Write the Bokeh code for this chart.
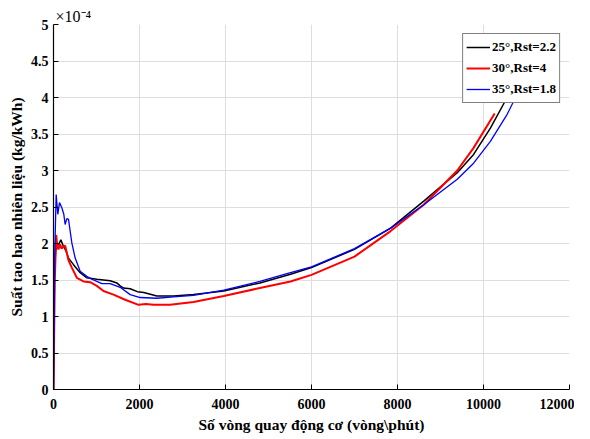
from bokeh.plotting import figure
from bokeh.models import FixedTicker, Legend, LegendItem, Range1d
from bokeh.embed import file_html
from bokeh.resources import INLINE

# ---- data (specific fuel consumption in units of 1e-4 kg/kWh) ----
rpm_25 = [0, 20, 50, 78, 130, 171, 233, 290, 349, 465, 620, 775, 1008, 1318, 1473,
          1550, 1628, 1783, 1950, 2100, 2403, 2791, 3256, 3961, 4800, 5512, 6000,
          7000, 7840, 8610, 9390, 9770, 10160, 10550, 10700]
sfc_25 = [0, 1.6, 1.9, 1.96, 2.0, 2.05, 1.96, 1.9, 1.80, 1.71, 1.60, 1.53, 1.51, 1.49,
          1.46, 1.42, 1.39, 1.38, 1.34, 1.33, 1.28, 1.28, 1.30, 1.35, 1.46, 1.58, 1.67,
          1.92, 2.21, 2.58, 2.97, 3.22, 3.58, 4.0, 4.2]

rpm_30 = [0, 30, 62, 90, 116, 155, 190, 217, 271, 349, 426, 543, 698, 853, 1008, 1163,
          1395, 1667, 1977, 2150, 2326, 2713, 3256, 3961, 4800, 5512, 6000, 7000, 7840,
          8610, 9390, 9770, 10260]
sfc_30 = [0, 1.5, 2.12, 1.95, 1.92, 1.99, 1.93, 1.95, 1.97, 1.77, 1.67, 1.53, 1.48,
          1.47, 1.42, 1.35, 1.30, 1.23, 1.16, 1.17, 1.16, 1.16, 1.20, 1.28, 1.39, 1.48,
          1.57, 1.82, 2.17, 2.53, 3.0, 3.31, 3.78]

rpm_35 = [0, 30, 62, 100, 140, 194, 240, 271, 310, 349, 426, 504, 620, 775, 891, 1008,
          1124, 1318, 1550, 1783, 2016, 2403, 2791, 3256, 3961, 4800, 5512, 6000, 7000,
          7840, 8610, 9390, 9770, 10160, 10550, 10780, 11000]
sfc_35 = [0, 1.9, 2.67, 2.40, 2.56, 2.49, 2.40, 2.26, 2.34, 2.33, 2.01, 1.80, 1.62,
          1.55, 1.51, 1.48, 1.45, 1.45, 1.40, 1.30, 1.26, 1.25, 1.27, 1.29, 1.36, 1.48,
          1.60, 1.68, 1.93, 2.21, 2.53, 2.88, 3.10, 3.40, 3.77, 4.04, 4.3]

series_labels = ["25°,Rst=2.2", "30°,Rst=4", "35°,Rst=1.8"]
series_colors = ["black", "red", "blue"]

x_ticks = [0, 2000, 4000, 6000, 8000, 10000, 12000]
y_ticks = [0, 0.5, 1, 1.5, 2, 2.5, 3, 3.5, 4, 4.5, 5]
y_tick_labels = ["0", "0.5", "1", "1.5", "2", "2.5", "3", "3.5", "4", "4.5", "5"]

FONT = "Liberation Serif"

p = figure(width=574, height=423, output_backend="svg", toolbar_location=None,
           x_range=Range1d(0, 12000), y_range=Range1d(0, 5),
           frame_width=516, frame_height=365, title="×10⁻⁴")
p.min_border_left = 53
p.min_border_top = 24
p.min_border_right = 5
p.min_border_bottom = 30
p.outline_line_color = None
p.background_fill_color = "white"
p.border_fill_color = "white"

p.title.align = "left"
p.title.offset = 2
p.title.text_font = FONT
p.title.text_font_style = "normal"
p.title.text_font_size = "16px"
p.title.text_color = "black"
p.title.standoff = 0

p.xaxis.ticker = FixedTicker(ticks=x_ticks)
p.yaxis.ticker = FixedTicker(ticks=y_ticks)
p.yaxis.major_label_overrides = {t: l for t, l in zip(y_ticks, y_tick_labels)}
p.xaxis.major_label_overrides = {t: str(t) for t in x_ticks}

for ax in (p.xaxis, p.yaxis):
    ax.axis_line_color = "black"
    ax.axis_line_width = 1.2
    ax.major_tick_in = 5
    ax.major_tick_out = 0
    ax.minor_tick_line_color = None
    ax.major_tick_line_color = "black"
    ax.major_label_text_font = FONT
    ax.major_label_text_font_style = "bold"
    ax.major_label_text_font_size = "14px"
    ax.major_label_text_color = "black"
    ax.axis_label_text_font = FONT
    ax.axis_label_text_font_style = "bold"
    ax.axis_label_text_font_size = "15.5px"
    ax.axis_label_text_color = "black"

p.xaxis.axis_label = "Số vòng quay động cơ (vòng\\phút)"
p.yaxis.axis_label = "Suất tao hao nhiên liệu (kg/kWh)"
p.xaxis.major_label_standoff = 9
p.yaxis.major_label_standoff = 5
p.xaxis.axis_label_standoff = 4
p.yaxis.axis_label_standoff = 3

p.grid.grid_line_color = "#dedede"
p.grid.grid_line_width = 1

r1 = p.line(rpm_25, sfc_25, line_color=series_colors[0], line_width=1.5)
r2 = p.line(rpm_30, sfc_30, line_color=series_colors[1], line_width=2)
r3 = p.line(rpm_35, sfc_35, line_color=series_colors[2], line_width=1.3)

legend = Legend(items=[LegendItem(label=series_labels[0], renderers=[r1]),
                       LegendItem(label=series_labels[1], renderers=[r2]),
                       LegendItem(label=series_labels[2], renderers=[r3])],
                location="top_right")
legend.margin = 9
legend.padding = 3
legend.spacing = 1
legend.glyph_width = 24
legend.glyph_height = 20
legend.label_height = 20
legend.label_standoff = 2
legend.label_text_font = FONT
legend.label_text_font_style = "bold"
legend.label_text_font_size = "13px"
legend.label_text_color = "black"
legend.border_line_color = "black"
legend.border_line_width = 1
legend.background_fill_alpha = 1
p.add_layout(legend)

open("out.html", "w").write(file_html(p, INLINE))
